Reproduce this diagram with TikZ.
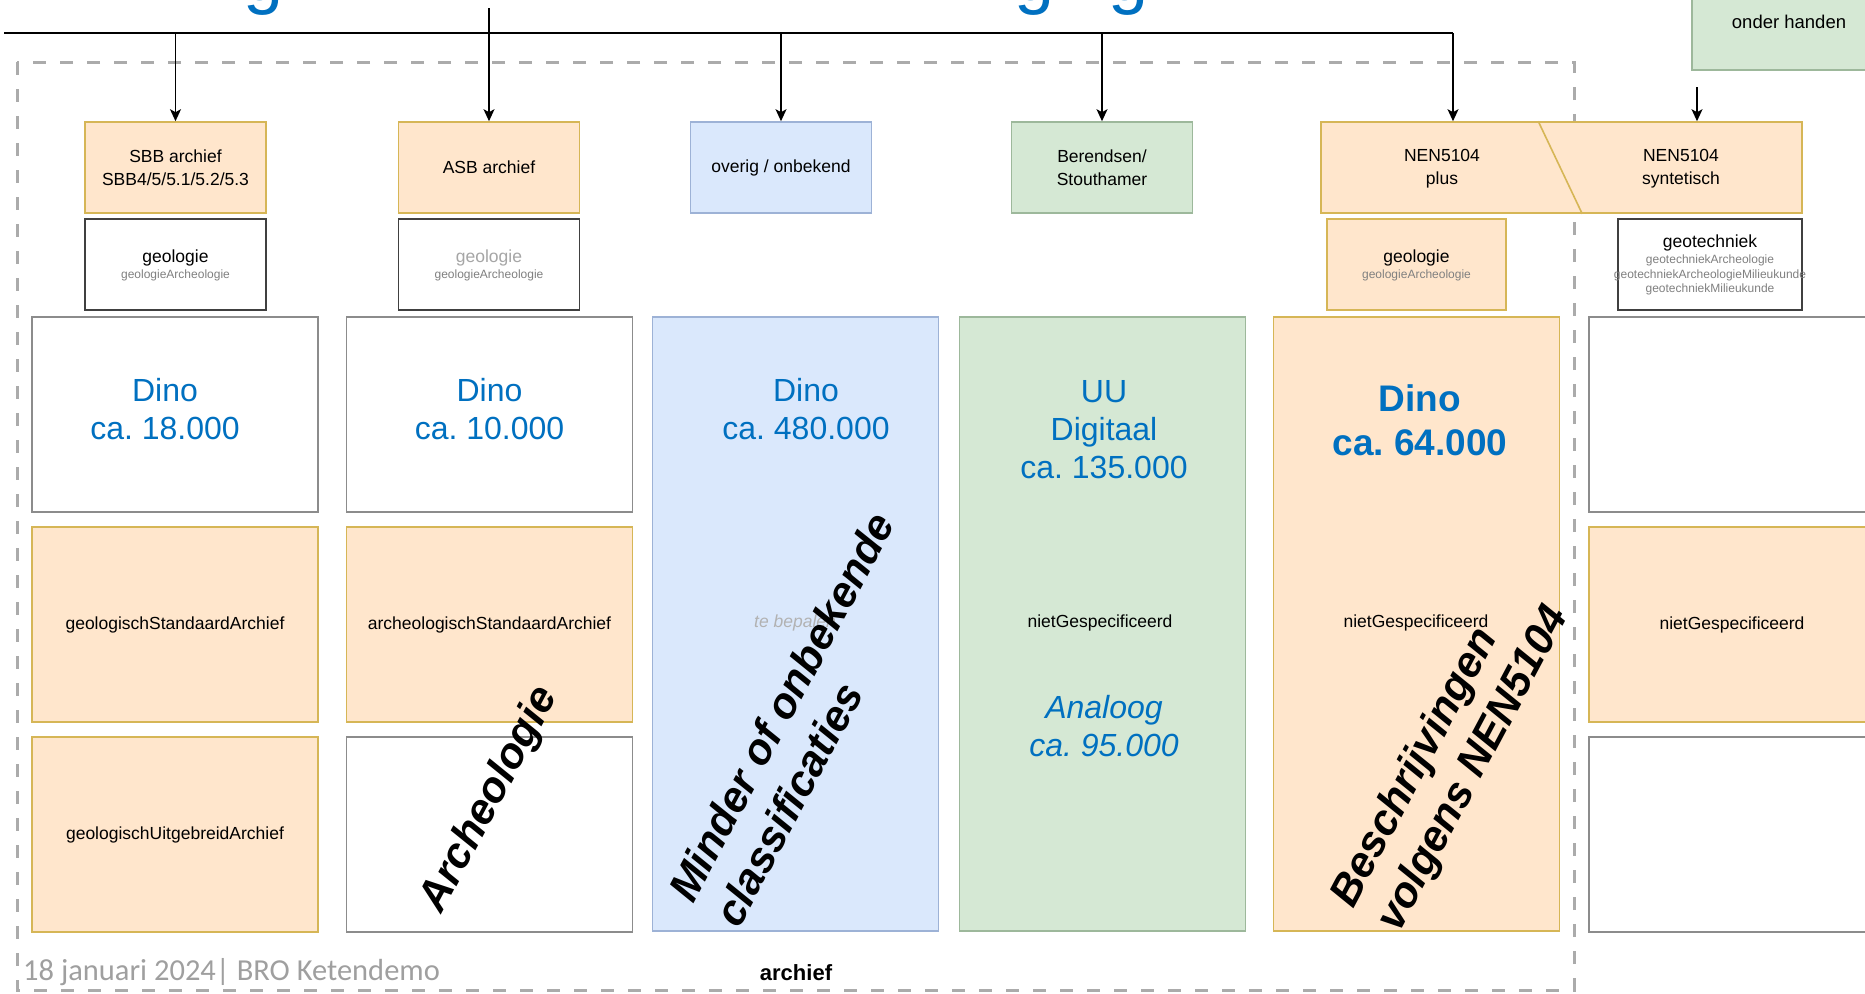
\documentclass[tikz,border=0pt]{standalone}
\usepackage{fontspec}
\setmainfont{Liberation Sans}
\newfontfamily\voetfont{Carlito}
\usepackage{tikz}
\usetikzlibrary{calc,positioning,arrows.meta}

\definecolor{oranjevul}{HTML}{FFE6CC}
\definecolor{oranjerand}{HTML}{D6B656}
\definecolor{blauwvul}{HTML}{DAE8FC}
\definecolor{blauwrand}{HTML}{9DB2D6}
\definecolor{groenvul}{HTML}{D5E8D4}
\definecolor{groenrand}{HTML}{9DB89B}
\definecolor{dinoblauw}{HTML}{0070C0}
\definecolor{streepgrijs}{HTML}{ABABAB}
\definecolor{randgrijs}{HTML}{8C8C8C}

\newcommand{\fsz}[2]{\fontsize{#1}{#2}\selectfont}
\frenchspacing

\begin{document}
\begin{tikzpicture}[x=1pt,y=-1pt,
    oranje/.style={draw=oranjerand,fill=oranjevul},
    blauw/.style={draw=blauwrand,fill=blauwvul},
    groen/.style={draw=groenrand,fill=groenvul},
    wit/.style={draw=randgrijs,fill=white},
    kop/.style={line width=1.6pt,minimum width=181pt,minimum height=91pt,align=center,font=\fsz{17.5}{23}},
    kolom/.style={line width=1.6pt,minimum width=286pt,minimum height=195pt,align=center,font=\fsz{17.5}{21}},
    lang/.style={kolom,minimum height=614pt},
    getal/.style={align=center,text=dinoblauw,font=\fsz{32}{38}},
    schuin/.style={rotate=62,align=left,font=\bfseries\itshape\fsz{43}{52}},
    klein/.style={font=\fsz{17.5}{21}},
    mini/.style={text=gray,font=\fsz{12}{14.5},align=center},
    pijl/.style={-{Stealth[length=12pt,width=11pt,inset=3pt]},line width=1.6pt}]

    \useasboundingbox (0,0) rectangle (1865,993);

    % archief kader
    \draw[streepgrijs,line width=3pt,dash pattern=on 13pt off 14pt] (17,62) rectangle (1574,990);

    % titel (afgesneden)
    \node[anchor=base,inner sep=0,text=dinoblauw,font=\fsz{72}{80}] (g1) at (264,0) {g};
    \node[anchor=base,inner sep=0,text=dinoblauw,font=\fsz{72}{80}] (g2) at (1035,0) {g};
    \node[anchor=base,inner sep=0,text=dinoblauw,font=\fsz{72}{80}] (g3) at (1129,0) {g};

    \node[groen,line width=1.6pt,minimum width=194pt,minimum height=96pt,font=\fsz{18.5}{22}] (handen) at (1789,22) {onder handen};

    % bronnen
    \node[kop,oranje] (sbb) at (175.5,167.5) {SBB archief\\SBB4/5/5.1/5.2/5.3};
    \node[kop,oranje] (asb) at (489,167.5) {ASB archief};
    \node[kop,blauw] (overig) at (781,167.5) {overig / onbekend};
    \node[kop,groen] (berendsen) at (1102,167.5) {Berendsen/\\Stouthamer};
    \node[kop,oranje,minimum width=481pt] (nen) at (1561.5,167.5) {};
    \node[klein,align=center,font=\fsz{17.5}{23}] (nenplus) at (1442,168.5) {NEN5104\\plus};
    \node[klein,align=center,font=\fsz{17.5}{23}] (nensyn) at (1681,168.5) {NEN5104\\syntetisch};
    \draw[oranjerand,line width=1.6pt] ($(nen.north west)+(218,0)$) -- ($(nen.south west)+(262,0)$);

    % kwaliteitsregimes
    \node[kop,wit,draw=black!75,below=4.5pt of sbb] (geo1) {};
    \node[kop,wit,draw=black!75,below=4.5pt of asb] (geo2) {};
    \node[kop,oranje,minimum width=179pt] (geo3) at (1416.5,264.5) {};
    \node[kop,wit,draw=black!75,minimum width=184pt] (geotech) at (1710,264.5) {};

    \node[klein] (geo1t) at ([yshift=6.5pt]geo1.center) {geologie};
    \node[mini] (geo1s) at ([yshift=-10.5pt]geo1.center) {geologieArcheologie};
    \node[klein,text=gray!70] (geo2t) at ([yshift=6.5pt]geo2.center) {geologie};
    \node[mini] (geo2s) at ([yshift=-10.5pt]geo2.center) {geologieArcheologie};
    \node[klein] (geo3t) at ([yshift=6.5pt]geo3.center) {geologie};
    \node[mini] (geo3s) at ([yshift=-10.5pt]geo3.center) {geologieArcheologie};
    \node[klein] (geotecht) at ([yshift=21.5pt]geotech.center) {geotechniek};
    \node[mini] (geotechs) at ([yshift=-10.5pt]geotech.center) {geotechniekArcheologie\\geotechniekArcheologieMilieukunde\\geotechniekMilieukunde};

    % kolommen
    \node[kolom,wit] (dino1) at (175,414.5) {};
    \node[kolom,oranje,below=13.5pt of dino1] (std1) {geologischStandaardArchief};
    \node[kolom,oranje,below=13.5pt of std1] (uit1) {geologischUitgebreidArchief};
    \node[kolom,wit] (dino2) at (489.5,414.5) {};
    \node[kolom,oranje,below=13.5pt of dino2] (std2) {archeologischStandaardArchief};
    \node[kolom,wit,below=13.5pt of std2] (leeg2) {};
    \node[lang,blauw] (dino3) at (795.5,624) {};
    \node[lang,groen] (uu) at (1102.5,624) {};
    \node[lang,oranje] (nenkol) at (1416.5,624) {};
    \node[kolom,wit] (syn1) at (1732,414.5) {};
    \node[kolom,oranje,below=13.5pt of syn1] (syn2) {nietGespecificeerd};
    \node[kolom,wit,below=13.5pt of syn2] (syn3) {};

    \node[getal] (dino1t) at ([xshift=-10pt,yshift=5.5pt]dino1.center) {Dino\\ca. 18.000};
    \node[getal] (dino2t) at ([yshift=5.5pt]dino2.center) {Dino\\ca. 10.000};
    \node[getal] (dino3t) at (806,409) {Dino\\ca. 480.000};
    \node[getal] (uut) at (1104,430) {UU\\Digitaal\\ca. 135.000};
    \node[getal,font=\bfseries\fsz{37}{44}] (dino5t) at (1420,420) {Dino\\ca. 64.000};
    \node[getal,font=\itshape\fsz{32}{38}] (analoogt) at (1104,726) {Analoog\\ca. 95.000};

    \node[klein,text=gray!60,font=\itshape\fsz{17.5}{21}] (tebepalen) at (795,623) {te bepalen};
    \node[klein] (niet4) at (1100,623) {nietGespecificeerd};
    \node[klein] (niet5) at (1416,623) {nietGespecificeerd};

    \node[schuin] (archeo) at (490,800) {Archeologie};
    \node[schuin] (minder) at (804,719) {Minder of onbekende\\classificaties};
    \node[schuin] (beschr) at (1451,757) {Beschrijvingen\\volgens NEN5104};

    \node[font=\bfseries\fsz{22}{26}] (archief) at (796,973) {archief};
    \node[anchor=base west,inner sep=0,text=gray!75,font=\voetfont\fsz{30.5}{34}] (voet) at (23,980) {18 januari 2024| BRO Ketendemo};

    % verbindingen
    \coordinate (busL) at (4,33);
    \coordinate (busR) at (1453,33);
    \coordinate (titelvoet) at (489,8);
    \coordinate (handenvoet) at (1697,87);
    \draw[line width=1.6pt] (busL) -- (busR);
    \draw[pijl] (busR) -- (busR |- nen.north);
    \draw[pijl] (sbb |- busL) -- (sbb);
    \draw[pijl] (titelvoet) -- (asb);
    \draw[pijl] (overig |- busL) -- (overig);
    \draw[pijl] (berendsen |- busL) -- (berendsen);
    \draw[pijl] (handenvoet) -- (handenvoet |- nen.north);

\end{tikzpicture}
\end{document}
